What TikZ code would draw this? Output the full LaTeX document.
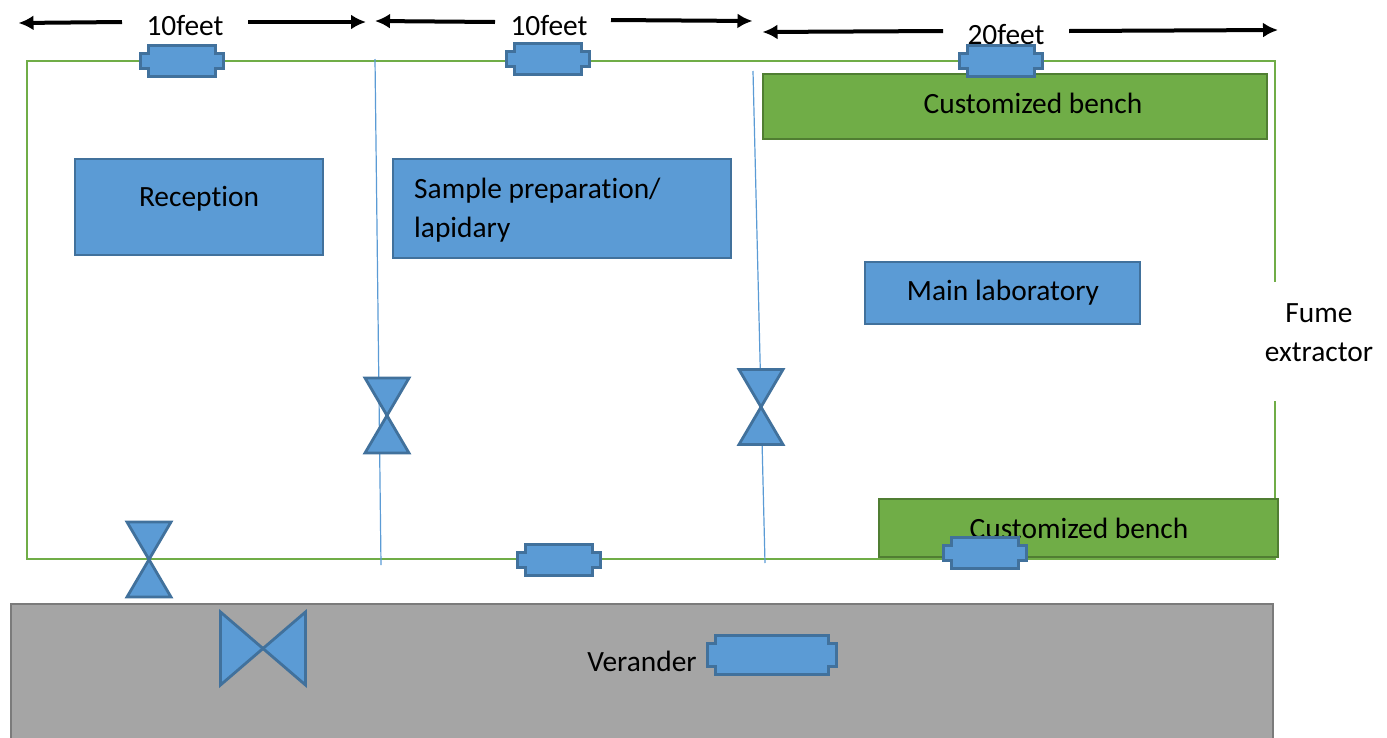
\documentclass[tikz,border=0pt]{standalone}
\usepackage{fontspec}
\setmainfont[Ligatures=NoCommon]{Carlito}
\usetikzlibrary{arrows.meta}
\definecolor{wallgreen}{HTML}{70AD47}
\definecolor{benchedge}{HTML}{507E32}
\definecolor{boxblue}{HTML}{5B9BD5}
\definecolor{boxedge}{HTML}{41719C}
\definecolor{verandergrey}{HTML}{A5A5A5}
\definecolor{verandedge}{HTML}{7B7B7B}
\tikzset{
    bluebox/.style={draw=boxedge, fill=boxblue, line width=2.8pt},
    benchbox/.style={rectangle, draw=benchedge, fill=wallgreen, line width=2.8pt, inner sep=0pt},
    roombox/.style={rectangle, bluebox, inner sep=0pt},
    labeltext/.style={font=\fontsize{29.4}{39}\selectfont, inner sep=0pt, align=center},
    partition/.style={draw=boxblue, line width=1.2pt},
    dimarrow/.style={-{Latex[length=15pt,width=15pt]}, line width=4pt, black}
}
% window: centre, half width, half height, notch
\newcommand{\windowshape}[4]{\draw[bluebox, shift={#1}] (-#2,-#3+#4) -- (-#2+#4,-#3+#4) -- (-#2+#4,-#3) -- (#2-#4,-#3) -- (#2-#4,-#3+#4) -- (#2,-#3+#4) -- (#2,#3-#4) -- (#2-#4,#3-#4) -- (#2-#4,#3) -- (-#2+#4,#3) -- (-#2+#4,#3-#4) -- (-#2,#3-#4) -- cycle}
% door: centre, half width, half height
\newcommand{\doorshape}[3]{\draw[bluebox, shift={#1}] (-#2,-#3) -- (#2,-#3) -- (-#2,#3) -- (#2,#3) -- cycle}
\newcommand{\doorside}[3]{\draw[bluebox, shift={#1}] (-#2,-#3) -- (#2,#3) -- (#2,-#3) -- (-#2,#3) -- cycle}

\begin{document}
\begin{tikzpicture}[x=1pt, y=-1pt]
    \useasboundingbox (0,0) rectangle (1387,737);

    % outer wall and veranda
    \node[rectangle, draw=wallgreen, line width=2.6pt, minimum width=1248pt, minimum height=498pt, inner sep=0pt] (wall) at (651,310) {};
    \node[rectangle, draw=verandedge, fill=verandergrey, line width=2.6pt, minimum width=1262pt, minimum height=150pt, inner sep=0pt] (veranda) at (642,679) {};
    \node[rectangle, fill=white, minimum width=138pt, minimum height=119pt, inner sep=0pt] (fumegap) at (1318,341.5) {};

    % partitions
    \coordinate (parta) at (375,59);
    \coordinate (partb) at (381,565);
    \coordinate (partc) at (753,71);
    \coordinate (partd) at (765,563);
    \draw[partition] (parta) -- (partb);
    \draw[partition] (partc) -- (partd);

    % rooms and benches
    \node[roombox, minimum width=248pt, minimum height=96pt] (reception) at (199,207) {};
    \node[roombox, minimum width=338pt, minimum height=99pt] (sample) at (562,208.5) {};
    \node[roombox, minimum width=275pt, minimum height=62pt] (mainlab) at (1002.5,293) {};
    \node[benchbox, minimum width=504pt, minimum height=65pt] (benchtop) at (1015,106.5) {};
    \node[benchbox, minimum width=399pt, minimum height=58pt] (benchbottom) at (1078.5,528) {};

    % labels
    \node[labeltext] (receptiontext) at (199,199) {Reception};
    \node[labeltext, align=left, anchor=west] (sampletext) at (414,210) {Sample preparation/\\lapidary};
    \node[labeltext] (mainlabtext) at (1003,293) {Main laboratory};
    \node[labeltext] (benchtoptext) at (1033,103.5) {Customized bench};
    \node[labeltext] (benchbottomtext) at (1079,528.5) {Customized bench};
    \node[labeltext] (fumetext) at (1319,332.5) {Fume\\extractor};
    \node[labeltext] (verandertext) at (642,661.5) {Verander};
    \node[labeltext] (feeta) at (185,26) {10feet};
    \node[labeltext] (feetb) at (549,26) {10feet};
    \node[labeltext] (feetc) at (1006,35) {20feet};

    % windows
    \windowshape{(182,61)}{41.5}{15.5}{8};
    \windowshape{(548,59)}{41.5}{15.5}{8};
    \windowshape{(1001,61)}{41.5}{15.5}{8};
    \windowshape{(559,560)}{41.5}{15.5}{8};
    \windowshape{(985,553)}{41.5}{15.5}{8};
    \windowshape{(772,655)}{64.5}{19.5}{8};

    % doors
    \doorshape{(387,415.5)}{22}{37.5};
    \doorshape{(761,407)}{22}{37.5};
    \doorshape{(149,559.5)}{22}{37.5};
    \doorside{(263,648.5)}{42.5}{36.5};

    % dimension arrows
    \coordinate (ala) at (122,22);
    \coordinate (alb) at (18.5,23);
    \coordinate (ara) at (248,22);
    \coordinate (arb) at (366,22);
    \coordinate (bla) at (495,22);
    \coordinate (blb) at (375,21);
    \coordinate (bra) at (611,20);
    \coordinate (brb) at (752.5,21);
    \coordinate (cla) at (943,31);
    \coordinate (clb) at (762.5,32);
    \coordinate (cra) at (1069,31);
    \coordinate (crb) at (1278,30);
    \draw[dimarrow] (ala) -- (alb);
    \draw[dimarrow] (ara) -- (arb);
    \draw[dimarrow] (bla) -- (blb);
    \draw[dimarrow] (bra) -- (brb);
    \draw[dimarrow] (cla) -- (clb);
    \draw[dimarrow] (cra) -- (crb);
\end{tikzpicture}
\end{document}
